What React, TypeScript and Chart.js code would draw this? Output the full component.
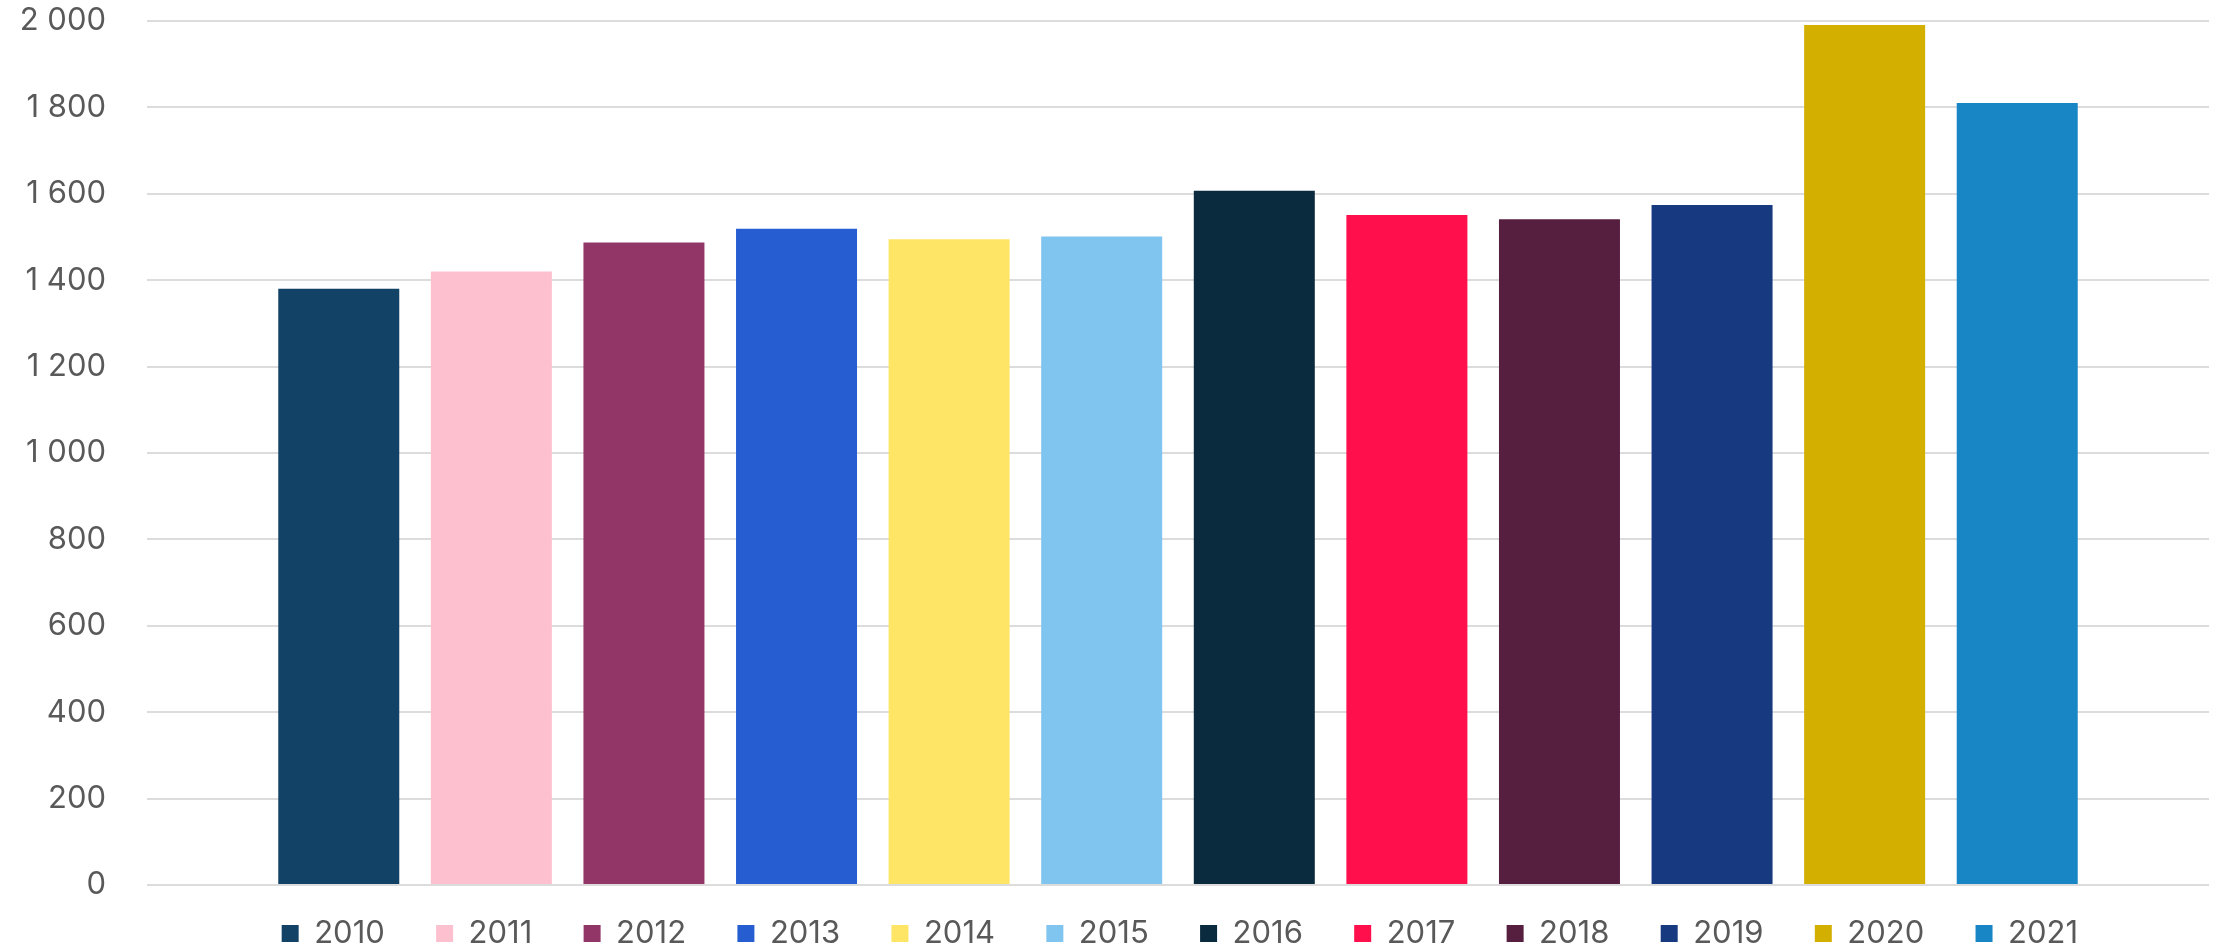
import React, { useEffect, useRef } from "react";
import { Chart, registerables } from "chart.js";

Chart.register(...registerables);

const categories: string[] = [""];
const years: string[] = ["2010", "2011", "2012", "2013", "2014", "2015", "2016", "2017", "2018", "2019", "2020", "2021"];
const values: number[] = [1380, 1420, 1487, 1519, 1495, 1501, 1607, 1551, 1541, 1574, 1991, 1810];
const colors: string[] = [
  "#124265", "#FDC0CF", "#923567", "#265ED2", "#FFE566", "#7FC5EF",
  "#0A2A3D", "#FF0F4B", "#561F3F", "#17397F", "#D3AF00", "#1886C4",
];
const yTicks: number[] = [0, 200, 400, 600, 800, 1000, 1200, 1400, 1600, 1800, 2000];

const fmt = (v: number) => String(v).replace(/\B(?=(\d{3})+(?!\d))/g, " ");

const legendShift = {
  id: "legendShift",
  afterLayout(chart: any) {
    if (chart.legend) {
      chart.legend.left += 11;
      chart.legend.right += 11;
    }
  },
};

export default function App() {
  const ref = useRef<HTMLCanvasElement | null>(null);
  useEffect(() => {
    document.body.style.margin = "0";
    if (!ref.current) return;
    const chart = new Chart(ref.current, {
      type: "bar",
      data: {
        labels: categories,
        datasets: years.map((y, i) => ({
          label: y,
          data: [values[i]],
          backgroundColor: colors[i],
          borderWidth: 0,
          barPercentage: 0.793,
          categoryPercentage: 0.888,
        })),
      },
      options: {
        animation: false,
        responsive: true,
        maintainAspectRatio: false,
        layout: { padding: { top: 21, right: 12, bottom: 0, left: 0 } },
        scales: {
          x: { display: false },
          y: {
            min: 0,
            max: 2000,
            afterBuildTicks: (s: any) => {
              s.ticks = yTicks.map((v) => ({ value: v }));
            },
            afterFit: (s: any) => {
              s.width = 147;
              s.paddingTop = 0;
              s.paddingBottom = 0;
            },
            border: { display: false },
            grid: { color: "#DCDCDC", lineWidth: 2, drawTicks: false },
            ticks: {
              padding: 41,
              color: "#595959",
              font: { family: "Inter", size: 31 },
              callback: (v: any) => fmt(Number(v)),
            },
          },
        },
        plugins: {
          tooltip: { enabled: false },
          legend: {
            position: "bottom",
            fullSize: false,
            maxHeight: 63,
            labels: {
              boxWidth: 17,
              boxHeight: 17,
              padding: 33,
              color: "#595959",
              font: { family: "Inter", size: 31 },
              generateLabels: (c: any) =>
                (Chart.defaults.plugins.legend.labels as any)
                  .generateLabels(c)
                  .map((l: any) => ({ ...l, text: l.text + "\u2002\u200A", lineWidth: 0 })),
            },
          },
        },
      },
      plugins: [legendShift],
    });
    return () => chart.destroy();
  }, []);
  return (
    <div style={{ width: 2221, height: 948, position: "relative" }}>
      <canvas ref={ref} />
    </div>
  );
}
